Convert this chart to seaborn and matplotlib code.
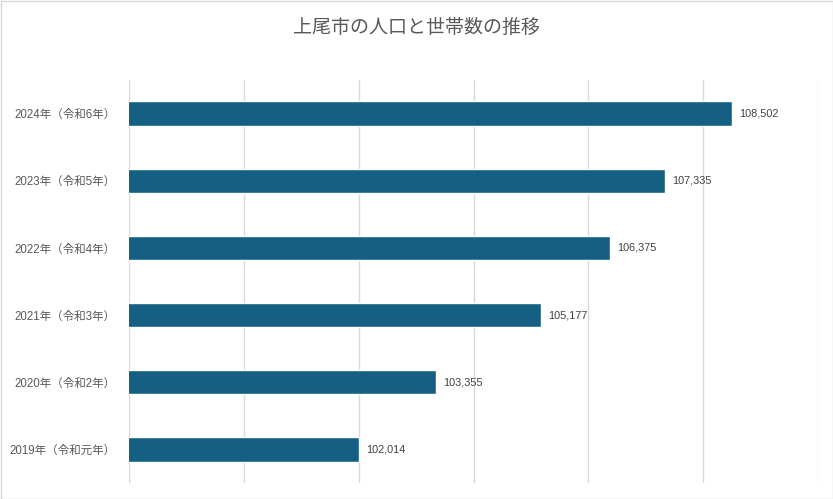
import matplotlib
matplotlib.use("Agg")
import matplotlib.pyplot as plt
import seaborn as sns
import pandas as pd
from matplotlib.patches import Rectangle

years = ["2024年（令和6年）", "2023年（令和5年）", "2022年（令和4年）",
         "2021年（令和3年）", "2020年（令和2年）", "2019年（令和元年）"]
population = [108502, 107335, 106375, 105177, 103355, 102014]
title = "上尾市の人口と世帯数の推移"

sns.set_theme(style="white")
plt.rcParams['font.family'] = ['Liberation Sans', 'Noto Sans CJK JP', 'DejaVu Sans']

df = pd.DataFrame({"year": years, "population": population})

fig = plt.figure(figsize=(8.33, 4.99), dpi=100)
ax = fig.add_axes([129/833, 1-483/499, (818-129)/833, (483-80)/499])

sns.barplot(data=df, x="population", y="year", orient="h", color="#156082",
            saturation=1, width=0.36, ax=ax)

ax.set_xlim(98000, 110000)
ax.set_xticks(range(98000, 110001, 2000))
ax.set_xticklabels([])
ax.tick_params(axis="x", length=0)
ax.tick_params(axis="y", length=0, labelsize=8.3, labelcolor="#595959", pad=9.5)
ax.grid(axis="x", color="#d9d9d9", linewidth=1)
ax.set_axisbelow(True)
for s in ax.spines.values():
    s.set_visible(False)
ax.set_xlabel("")
ax.set_ylabel("")

for i, v in enumerate(population):
    ax.annotate(f"{v:,}", (v, i), xytext=(5, 0), textcoords="offset points",
                va="center", ha="left", fontsize=7.8, color="#404040")

fig.text(0.5, 1-27/499, title, ha="center", va="center", fontsize=13.7, color="#595959",
         family=['Noto Sans CJK JP', 'DejaVu Sans'])

fig.patches.append(Rectangle((0.5/833, 0.5/499), 1-1/833, 1-1/499, transform=fig.transFigure,
                             fill=False, edgecolor="#d9d9d9", linewidth=1))

fig.savefig("out.png", dpi=100)
